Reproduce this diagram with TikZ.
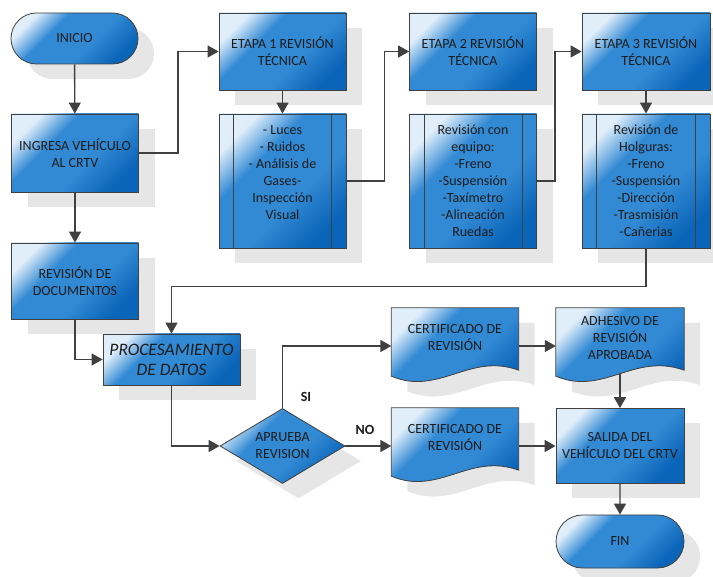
\documentclass[tikz,border=0pt]{standalone}
\usepackage{fontspec}
\setmainfont{Carlito}
\usetikzlibrary{shapes.geometric,shapes.misc,arrows.meta,shadows,calc,backgrounds}

\definecolor{blight}{RGB}{224,238,250}
\definecolor{bmid}{RGB}{50,138,212}
\definecolor{bdark}{RGB}{10,100,184}
\definecolor{sgray}{RGB}{230,230,230}
\definecolor{lgray}{RGB}{64,64,64}
\definecolor{tgray}{RGB}{28,28,28}

\pgfdeclareverticalshading{boxshade}{100bp}{color(0bp)=(bdark); color(25bp)=(bdark); color(42bp)=(bmid); color(62bp)=(bmid); color(75bp)=(blight); color(100bp)=(blight)}

\newcommand{\docpath}[1]{(#1.north west) -- (#1.north east) -- ($(#1.south east)+(0,2)$)
  .. controls ($(#1.south west)+(78,-16)$) and ($(#1.south west)+(48,28)$) .. ($(#1.south west)+(0,8)$) -- cycle}

\begin{document}
\begin{tikzpicture}[x=1pt,y=-1pt,
  boxfill/.style={shading=boxshade, shading angle=45, draw=lgray, line width=0.8pt},
  shade/.style={drop shadow={shadow xshift=16pt, shadow yshift=-15pt, fill=sgray, opacity=1}},
  txt/.style={text=tgray, align=center, inner sep=0pt, font=\fontsize{14}{17}\selectfont},
  box/.style={rectangle, boxfill, shade, txt, minimum width=127, minimum height=77},
  term/.style={rounded rectangle, boxfill, shade, txt, minimum width=127, minimum height=51},
  sub/.style={box, minimum height=134},
  doc/.style={txt, minimum width=127, minimum height=60},
  arr/.style={draw=lgray, line width=1.4pt, -{Triangle[length=11pt,width=12pt]}}]
  \useasboundingbox (0,0) rectangle (713,577);
  \begin{pgfonlayer}{background}
    \fill[white] (0,0) rectangle (713,577);
  \end{pgfonlayer}

  % columna izquierda
  \node[term] (inicio) at (74.5,38.5) {INICIO};
  \node[box, minimum height=78] (ingresa) at (75,153) {INGRESA VEHÍCULO\\AL CRTV};
  \node[box, minimum height=76] (revdoc) at (75,281) {REVISIÓN DE\\DOCUMENTOS};
  \node[box, minimum width=137, minimum height=51, font=\fontsize{17.5}{20}\selectfont\itshape] (proc) at (171.5,359.5) {PROCESAMIENTO\\DE DATOS};

  % etapas
  \node[box] (etapa1) at (282.5,51.5) {ETAPA 1 REVISIÓN\\TÉCNICA};
  \node[sub] (luces) at (282.5,181) {- Luces\\- Ruidos\\- Análisis de\\Gases-\\Inspección\\Visual\\\mbox{}};
  \node[box] (etapa2) at (473,51.5) {ETAPA 2 REVISIÓN\\TÉCNICA};
  \node[sub] (equipo) at (473,181) {Revisión con\\equipo:\\-Freno\\-Suspensión\\-Taxímetro\\-Alineación\\Ruedas};
  \node[box, minimum width=128] (etapa3) at (646,51.5) {ETAPA 3 REVISIÓN\\TÉCNICA};
  \node[sub, minimum width=128] (holguras) at (646,181) {Revisión de\\Holguras:\\-Freno\\-Suspensión\\-Dirección\\-Trasmisión\\-Cañerias};
  \foreach \p in {luces,equipo,holguras}
    \draw[draw=lgray, line width=0.8pt] ([xshift=15pt]\p.north west) -- ([xshift=15pt]\p.south west)
      ([xshift=-15pt]\p.north east) -- ([xshift=-15pt]\p.south east);

  % decision y salida
  \node[diamond, aspect=1.67, boxfill, shade, txt, minimum width=125, minimum height=75] (aprueba) at (282.5,446) {APRUEBA\\REVISION};
  \node[doc] (cert1) at (455,338) {CERTIFICADO DE\\REVISIÓN};
  \node[doc, minimum width=128] (adhes) at (620,338) {ADHESIVO DE\\REVISIÓN\\APROBADA};
  \node[doc] (cert2) at (455,438) {CERTIFICADO DE\\REVISIÓN};
  \node[box, minimum width=128, minimum height=75] (salida) at (620,446) {SALIDA DEL\\VEHÍCULO DEL CRTV};
  \node[term, minimum width=128, minimum height=53] (fin) at (620,541.5) {FIN};
  \begin{pgfonlayer}{background}
    \foreach \d in {cert1,adhes,cert2} {
      \fill[sgray, transform canvas={shift={(16pt,-15pt)}}] \docpath{\d};
      \path[boxfill] \docpath{\d};
    }
  \end{pgfonlayer}
  \node[txt, font=\fontsize{14}{17}\selectfont\bfseries] (si) at (306,397) {SI};
  \node[txt, font=\fontsize{14}{17}\selectfont\bfseries] (no) at (365,430) {NO};

  \draw[arr] (inicio) -- (ingresa);
  \draw[arr] (ingresa.east) -- ++(39,0) |- (etapa1.west);
  \draw[arr] (etapa1) -- (luces);
  \draw[arr] (luces.east) -- ++(38,0) |- (etapa2.west);
  \draw[arr] (equipo.east) -- ++(18,0) |- (etapa3.west);
  \draw[arr] (etapa3) -- (holguras);
  \draw[arr] (holguras.south) -- ++(0,38) -| (proc.north);
  \draw[arr] (ingresa) -- (revdoc);
  \draw[arr] (revdoc.south) |- (proc.west);
  \draw[arr] (proc.south) |- (aprueba.west);
  \draw[arr] (aprueba.north) |- ([yshift=-8pt]cert1.west);
  \draw[arr] (aprueba.east) -- ([yshift=-8pt]cert2.west);
  \draw[arr] ([yshift=-8pt]cert1.east) -- ([yshift=-8pt]adhes.west);
  \draw[arr] ([yshift=-5pt]adhes.south) -- (salida.north);
  \draw[arr] ([yshift=-8pt]cert2.east) -- (salida.west);
  \draw[arr] (salida) -- (fin);
\end{tikzpicture}
\end{document}
